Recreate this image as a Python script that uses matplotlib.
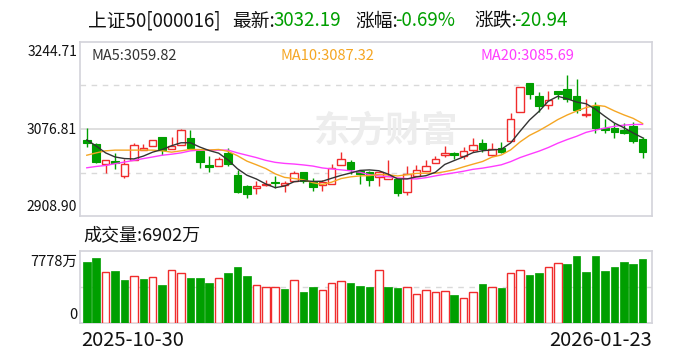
import numpy as np
import pandas as pd
import matplotlib
matplotlib.use('Agg')
import matplotlib.pyplot as plt

plt.rcParams['font.family'] = ['Noto Sans CJK SC', 'DejaVu Sans']

# ---------------- data ----------------
date_labels = ['2025-10-30', '2026-01-23']

opens = [3055.73, 3048.50, 3009.83, 3014.95, 2985.79, 3017.31, 3036.03, 3044.50, 3061.05, 3037.41,
         3046.86, 3059.08, 3035.04, 3006.48, 3005.10, 3030.71, 2988.75, 2967.08, 2963.73, 2969.05,
         2974.96, 2969.05, 2976.93, 2993.28, 2974.96, 2968.46, 2970.43, 3007.86, 3012.98, 2995.25,
         2994.66, 2983.43, 2980.28, 2980.28, 2955.85, 2986.78, 2995.25, 3011.01, 3026.18, 3029.53,
         3024.21, 3036.03, 3049.23, 3026.18, 3039.38, 3054.35, 3110.30, 3166.05, 3139.85, 3123.30,
         3149.70, 3154.23, 3141.03, 3103.50, 3121.33, 3078.78, 3078.78, 3075.43, 3081.93, 3057.70]
highs = [3078.78, 3049.23, 3016.33, 3029.53, 3018.30, 3049.82, 3047.85, 3054.74, 3061.05, 3061.64,
         3076.81, 3075.43, 3035.04, 3024.21, 3022.83, 3039.38, 2998.01, 2969.05, 2975.55, 2978.90,
         2986.78, 2976.93, 2995.25, 2993.28, 2982.25, 2978.31, 3009.83, 3031.50, 3017.71, 2996.63,
         2995.64, 2993.28, 3016.33, 2980.28, 3004.51, 3006.48, 3016.33, 3024.21, 3043.91, 3032.68,
         3041.94, 3059.08, 3057.11, 3050.41, 3052.38, 3106.95, 3158.00, 3166.05, 3147.73, 3150.88,
         3150.88, 3181.81, 3173.93, 3134.53, 3129.21, 3096.51, 3088.63, 3088.63, 3089.81, 3062.23]
lows = [3041.94, 3012.00, 2991.31, 2999.98, 2981.85, 3016.33, 3036.03, 3044.50, 3026.18, 3037.41,
        3046.86, 3040.56, 3001.55, 2993.28, 3005.10, 3005.10, 2953.88, 2942.85, 2951.91, 2967.08,
        2963.73, 2955.85, 2976.93, 2972.40, 2957.23, 2957.23, 2970.43, 3007.86, 2990.13, 2971.02,
        2967.08, 2967.08, 2980.28, 2947.38, 2949.35, 2986.78, 2995.25, 3011.01, 3022.83, 3019.68,
        3019.68, 3032.68, 3032.68, 3024.21, 3030.71, 3054.35, 3110.30, 3134.53, 3109.51, 3114.83,
        3134.53, 3129.21, 3108.33, 3099.66, 3068.93, 3068.93, 3060.26, 3066.50, 3049.23, 3020.86]
closes = [3049.23, 3012.98, 3016.33, 3011.80, 3008.45, 3045.88, 3039.97, 3054.74, 3037.01, 3044.89,
          3074.44, 3040.56, 3012.98, 3003.13, 3019.68, 3008.45, 2955.85, 2950.73, 2967.08, 2971.61,
          2972.60, 2971.81, 2992.10, 2976.93, 2965.11, 2973.58, 3001.16, 3019.68, 2999.98, 2990.13,
          2978.31, 2993.28, 2986.78, 2953.88, 2990.13, 2998.01, 3004.51, 3019.68, 3029.53, 3027.56,
          3034.06, 3045.29, 3037.41, 3038.00, 3032.68, 3097.00, 3158.00, 3145.00, 3121.00, 3132.00,
          3143.50, 3134.50, 3113.00, 3105.00, 3078.50, 3075.00, 3070.50, 3068.50, 3053.13, 3032.19]
# volume in 万
volumes = [6546, 7010, 5467, 5575, 4605, 5036, 4745, 4928, 4098, 5683,
           5360, 4853, 4853, 4314, 4820, 5392, 6007, 5036, 4173, 3958,
           3882, 3667, 4605, 3343, 3882, 3634, 4389, 4497, 4314, 4066,
           3882, 5683, 3882, 3774, 3882, 3203, 3634, 3419, 3483, 3095,
           2771, 3419, 4281, 3882, 3774, 5360, 5683, 5144, 5360, 6007,
           6438, 6330, 7193, 5467, 7193, 5575, 6007, 6546, 6330, 6902]
# moving-average values before enough in-window closes exist
ma5_head = [3055.73, 3043.91, 3030.71, 3022.83]
ma10_head = [3026.18, 3030.71, 3034.65, 3036.03, 3036.03, 3036.03, 3036.03, 3036.03, 3034.65]
ma20_head = [3001.95, 3004.51, 3006.48, 3009.83, 3012.98, 3016.33, 3019.68, 3022.83, 3026.18,
             3028.15, 3030.71, 3034.65, 3036.03, 3036.03, 3036.03, 3036.03, 3030.71, 3026.18, 3021.65]

price_low, price_mid, price_high = 2908.90, 3076.81, 3244.71
vol_top = 7778
name = '上证50[000016]'
latest = '3032.19'
pct = '-0.69%'
chg = '-20.94'
ma_labels = ['MA5:3059.82', 'MA10:3087.32', 'MA20:3085.69']
vol_label = '成交量:6902万'

# ---------------- styling ----------------
RED = '#f02c2c'
GREEN = '#009f00'
FRAME = '#d3d3da'
GRID = '#d9d9d9'
C_MA5 = '#333333'
C_MA10 = '#f5a623'
C_MA20 = '#ff3cff'

W, H = 688, 360
fig = plt.figure(figsize=(W / 100, H / 100), dpi=100)
fig.patch.set_facecolor('white')

def fx(px):
    return px / W

def fy(py):
    return 1 - py / H

n = len(closes)
x = np.arange(n)
o = np.array(opens); c = np.array(closes); hi = np.array(highs); lo = np.array(lows)

ax1 = fig.add_axes([fx(80), fy(216), fx(652) - fx(80), fy(42) - fy(216)])
ax2 = fig.add_axes([fx(80), fy(323.3), fx(652) - fx(80), fy(251) - fy(323.3)])

for ax in (ax1, ax2):
    ax.set_xlim(-0.72, 60.0)
    ax.set_xticks([]); ax.set_yticks([])
    for s in ax.spines.values():
        s.set_color(FRAME); s.set_linewidth(1.2)

ax1.set_ylim(price_low, price_high)
ax2.set_ylim(0, vol_top)

# grid
q1 = price_low + (price_high - price_low) * 0.25
q3 = price_low + (price_high - price_low) * 0.75
ax1.axhline(q1, color=GRID, lw=1, ls=(0, (4, 4)), zorder=0)
ax1.axhline(q3, color=GRID, lw=1, ls=(0, (4, 4)), zorder=0)
ax1.axhline(price_mid, color=GRID, lw=1.2, zorder=0)
ax2.axhline(vol_top / 2, color=GRID, lw=1, ls=(0, (4, 4)), zorder=0)

# watermark
ax1.text(0.535, 0.49, '东方财富', transform=ax1.transAxes, fontsize=26, fontweight='bold',
         color='#ededed', ha='center', va='center', zorder=0)

# candles
up = c >= o
bw = 0.80
cols = np.where(up, RED, GREEN)
body_top = np.maximum(o, c); body_bot = np.minimum(o, c)
ax1.vlines(x, body_top, hi, colors=cols, lw=1.0, zorder=2)
ax1.vlines(x, lo, body_bot, colors=cols, lw=1.0, zorder=2)
heights = np.maximum(body_top - body_bot, 0.3)
ax1.bar(x[up], heights[up], bottom=body_bot[up], width=bw, facecolor='white',
        edgecolor=RED, linewidth=1.0, zorder=3)
ax1.bar(x[~up], heights[~up], bottom=body_bot[~up], width=bw, facecolor=GREEN,
        edgecolor=GREEN, linewidth=0.8, zorder=3)

# moving averages
cs = pd.Series(closes)
ma5 = cs.rolling(5).mean().to_numpy(); ma5[:4] = ma5_head
ma10 = cs.rolling(10).mean().to_numpy(); ma10[:9] = ma10_head
ma20 = cs.rolling(20).mean().to_numpy(); ma20[:19] = ma20_head
ax1.plot(x, ma20, color=C_MA20, lw=1.0, zorder=4)
ax1.plot(x, ma10, color=C_MA10, lw=1.0, zorder=4)
ax1.plot(x, ma5, color=C_MA5, lw=1.0, zorder=5)

# volume
prev = np.concatenate([[o[0]], c[:-1]])
vup = c >= prev
vup[0] = c[0] >= o[0]
vol = np.array(volumes)
ax2.bar(x[vup], vol[vup], width=bw, facecolor='white', edgecolor=RED, linewidth=1.0, zorder=3)
ax2.bar(x[~vup], vol[~vup], width=bw, facecolor=GREEN, edgecolor=GREEN, linewidth=0.5, zorder=3)

# ---------------- texts ----------------
ty = fy(21)
TS = 13.5
fig.text(fx(88), ty, name, fontsize=TS, color='#111111', ha='left', va='center')
fig.text(fx(232), ty, '最新:', fontsize=TS, color='#111111', ha='left', va='center')
fig.text(fx(273), ty, latest, fontsize=TS, color=GREEN, ha='left', va='center')
fig.text(fx(355), ty, '涨幅:', fontsize=TS, color='#111111', ha='left', va='center')
fig.text(fx(395), ty, pct, fontsize=TS, color=GREEN, ha='left', va='center')
fig.text(fx(474), ty, '涨跌:', fontsize=TS, color='#111111', ha='left', va='center')
fig.text(fx(514), ty, chg, fontsize=TS, color=GREEN, ha='left', va='center')

my = fy(56)
fig.text(fx(91), my, ma_labels[0], fontsize=10.5, color=C_MA5, ha='left', va='center')
fig.text(fx(281), my, ma_labels[1], fontsize=10.5, color=C_MA10, ha='left', va='center')
fig.text(fx(481), my, ma_labels[2], fontsize=10.5, color=C_MA20, ha='left', va='center')

fig.text(fx(77), fy(52), f'{price_high:.2f}', fontsize=10, color='#111111', ha='right', va='center')
fig.text(fx(77), fy(130), f'{price_mid:.2f}', fontsize=10, color='#111111', ha='right', va='center')
fig.text(fx(77), fy(207), f'{price_low:.2f}', fontsize=10, color='#111111', ha='right', va='center')

fig.text(fx(83), fy(235), vol_label, fontsize=13, color='#111111', ha='left', va='center')
fig.text(fx(77), fy(262), f'{vol_top}万', fontsize=10.5, color='#111111', ha='right', va='center')
fig.text(fx(77), fy(315), '0', fontsize=10.5, color='#111111', ha='right', va='center')

fig.text(fx(81), fy(341), date_labels[0], fontsize=14.5, color='#111111', ha='left', va='center')
fig.text(fx(652), fy(341), date_labels[1], fontsize=14.5, color='#111111', ha='right', va='center')

fig.savefig('out.png', dpi=100, facecolor='white')
